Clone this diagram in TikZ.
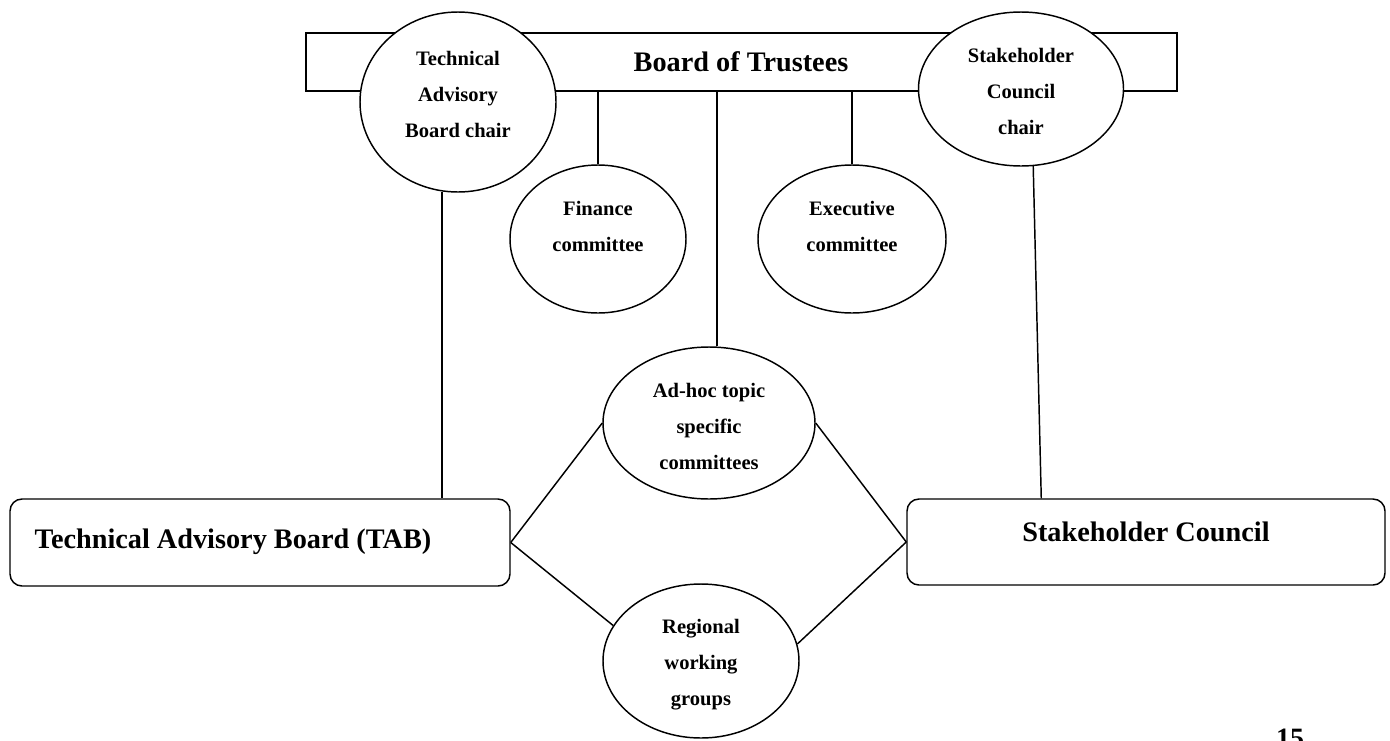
\documentclass[tikz,border=0pt]{standalone}
\usepackage{fontspec}
\setmainfont{Liberation Serif}
\usetikzlibrary{shapes.geometric,calc}
\begin{document}
\begin{tikzpicture}[x=0.75pt,y=-0.75pt,line width=1.1pt,
  bigtext/.style={font=\fontsize{21.2}{25}\selectfont\bfseries, inner sep=0pt},
  smalltext/.style={font=\fontsize{15.4}{27}\selectfont\bfseries, align=center, inner sep=0pt},
  oval/.style={draw, ellipse, fill=white, inner sep=0pt},
  roundbox/.style={draw, rounded corners=9pt, inner sep=0pt},
  link/.style={draw, line width=1.1pt}]
\useasboundingbox (0,0) rectangle (1390,740);

% Board of Trustees
\node[draw, inner sep=0pt, minimum width=653.25pt, minimum height=43.5pt] (board) at (741.5,62) {};
\node[bigtext] (boardt) at (741,62) {Board of Trustees};

% chairs
\node[oval, minimum width=147pt, minimum height=135pt] (tabc) at (458,102) {};
\node[smalltext] (tabct) at (458,94) {Technical\\Advisory\\Board chair};
\node[oval, minimum width=153.75pt, minimum height=115.5pt] (scc) at (1021,89) {};
\node[smalltext] (scct) at (1021,91) {Stakeholder\\Council\\chair};

% committees
\node[oval, minimum width=132pt, minimum height=111pt] (fin) at (598,239) {};
\node[smalltext] (fint) at (598,226) {Finance\\committee};
\node[oval, minimum width=141pt, minimum height=111pt] (exec) at (852,239) {};
\node[smalltext] (exect) at (852,226) {Executive\\committee};
\node[oval, minimum width=159pt, minimum height=114pt] (adhoc) at (709,423) {};
\node[smalltext] (adhoct) at (709,426) {Ad-hoc topic\\specific\\committees};
\node[oval, minimum width=147pt, minimum height=115.5pt] (reg) at (701,661) {};
\node[smalltext] (regt) at (701,665) {Regional\\working\\groups};

% bottom boxes
\node[roundbox, minimum width=375pt, minimum height=65.25pt] (tab) at (260,542.5) {};
\node[bigtext, anchor=west] (tabt) at (34,542) {Technical Advisory Board (TAB)};
\node[roundbox, minimum width=358.5pt, minimum height=64.5pt] (sc) at (1146,542) {};
\node[bigtext] (sct) at (1146,532) {Stakeholder Council};

% connectors
\draw[link] (fin.north) -- (fin.north |- board.south);
\draw[link] (exec.north) -- (exec.north |- board.south);
\draw[link] (adhoc.84) -- (adhoc.84 |- board.south);
\draw[link] (tabc.260) -- (tabc.260 |- tab.north);
\draw[link] (scc.279) -- ($(sc.north west)+(135,0)$);
\draw[link] (tab.east) -- (adhoc.west);
\draw[link] (adhoc.east) -- (sc.west);
\draw[link] (tab.east) -- (reg.158);
\draw[link] (reg.10) -- (sc.west);

% page number
\node[font=\fontsize{21}{25}\selectfont\bfseries, anchor=base, inner sep=0pt] (pnum) at (1290,747) {15};
\end{tikzpicture}
\end{document}
